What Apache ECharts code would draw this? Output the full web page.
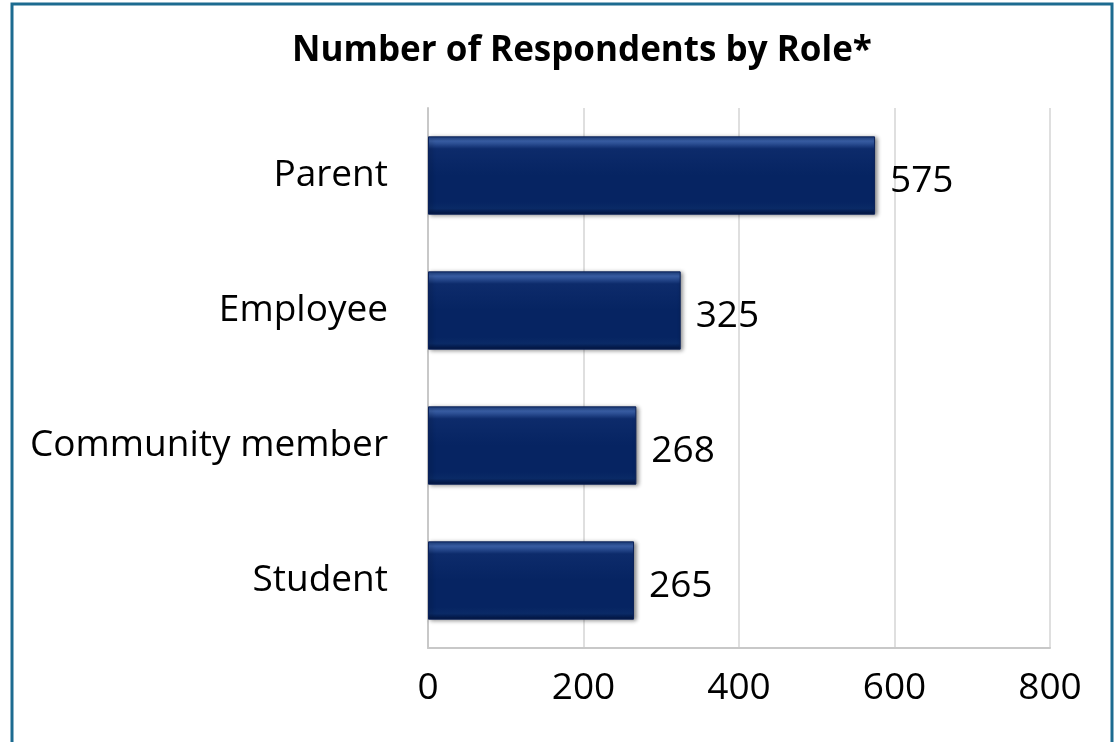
<!DOCTYPE html>
<html>
<head>
<meta charset="utf-8">
<script src="https://cdn.jsdelivr.net/npm/echarts@6/dist/echarts.min.js"></script>
<style>
  html, body { margin: 0; padding: 0; background: #ffffff; }
  #chart { width: 1116px; height: 742px; }
</style>
</head>
<body>
<div id="chart"></div>
<script>
// Respondent counts, listed top to bottom
const roles = ['Parent', 'Employee', 'Community member', 'Student'];
const counts = [575, 325, 268, 265];
const axisTicks = [0, 200, 400, 600, 800];

const FONT = '"Open Sans", "Noto Sans", sans-serif';

const chart = echarts.init(document.getElementById('chart'));

// Navy bar with a bevelled look: light top edge, dark bottom edge
const barFill = new echarts.graphic.LinearGradient(0, 0, 0, 1, [
  { offset: 0.00, color: '#1d3f80' },
  { offset: 0.06, color: '#3a5fa6' },
  { offset: 0.16, color: '#0d2b6b' },
  { offset: 0.50, color: '#062462' },
  { offset: 0.84, color: '#062462' },
  { offset: 0.92, color: '#0a2a66' },
  { offset: 1.00, color: '#021440' }
]);

chart.setOption({
  animation: false,
  backgroundColor: '#ffffff',
  title: {
    text: 'Number of Respondents by Role*',
    left: 577,
    top: 29,
    textAlign: 'center',
    textStyle: { fontFamily: FONT, fontWeight: 'bold', fontSize: 35, color: '#000000' }
  },
  graphic: [{
    type: 'rect',
    shape: { x: 12, y: 4, width: 1100, height: 760 },
    style: { fill: 'none', stroke: '#1c6b90', lineWidth: 3 },
    silent: true
  }],
  grid: { left: 428, right: 66, top: 108, bottom: 94, containLabel: false },
  xAxis: {
    type: 'value',
    min: axisTicks[0],
    max: axisTicks[axisTicks.length - 1],
    interval: axisTicks[1] - axisTicks[0],
    axisLine: { show: true, lineStyle: { color: '#c8c8c8', width: 2 } },
    axisTick: { show: false },
    axisLabel: { fontFamily: FONT, fontSize: 37, color: '#000000', margin: 22 },
    splitLine: { show: true, lineStyle: { color: '#d4d4d4', width: 1.5 } }
  },
  yAxis: {
    type: 'category',
    data: roles,
    inverse: true,
    axisLine: { show: true, lineStyle: { color: '#c8c8c8', width: 2 } },
    axisTick: { show: false },
    axisLabel: { fontFamily: FONT, fontSize: 37, color: '#000000', margin: 40, padding: [8, 0, 0, 0] }
  },
  series: [{
    type: 'bar',
    data: counts,
    barCategoryGap: '42%',
    itemStyle: {
      color: barFill,
      borderColor: '#0a2058',
      borderWidth: 1,
      shadowColor: 'rgba(0,0,0,0.45)',
      shadowBlur: 4,
      shadowOffsetX: 2,
      shadowOffsetY: 1
    },
    label: {
      show: true,
      position: 'right',
      distance: 15,
      fontFamily: FONT,
      fontSize: 37,
      color: '#000000',
      offset: [0, 6]
    }
  }]
});
</script>
</body>
</html>
